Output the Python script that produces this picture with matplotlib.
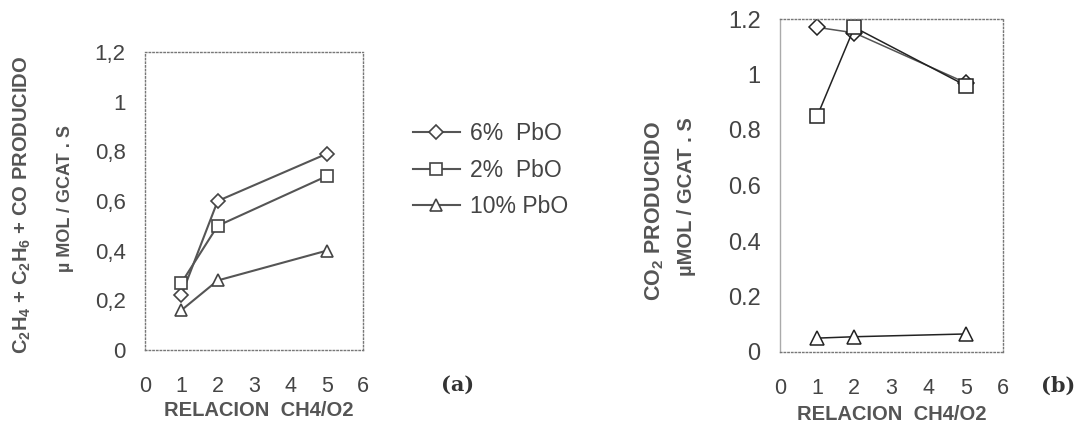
import numpy as np
import matplotlib
matplotlib.use('Agg')
import matplotlib.pyplot as plt

plt.rcParams['font.family'] = ['Liberation Sans', 'DejaVu Sans']
plt.rcParams['mathtext.default'] = 'regular'

# data
x = [1, 2, 5]
series_names = ['6%  PbO', '2%  PbO', '10% PbO']
markers = ['D', 's', '^']

# (a) C2H4 + C2H6 + CO producido
a_6 = [0.22, 0.60, 0.79]
a_2 = [0.27, 0.50, 0.70]
a_10 = [0.16, 0.28, 0.40]

# (b) CO2 producido
b_6 = [1.17, 1.15, 0.97]
b_2 = [0.85, 1.17, 0.96]
b_10 = [0.05, 0.055, 0.065]

xticks_vals = [0, 1, 2, 3, 4, 5, 6]
yticks_vals = [0, 0.2, 0.4, 0.6, 0.8, 1.0, 1.2]
yticks_a = ['0', '0,2', '0,4', '0,6', '0,8', '1', '1,2']
yticks_b = ['0', '0.2', '0.4', '0.6', '0.8', '1', '1.2']

txt = '#444444'
lab = '#555555'

fig = plt.figure(figsize=(10.77, 4.30), dpi=100)
ax1 = fig.add_axes([145/1077, 80/430, 218/1077, 298/430])
ax2 = fig.add_axes([780/1077, 78/430, 223/1077, 333/430])

msz = [7, 9, 9]

# ---- panel (a)
handles = []
for ys, m, name, ms in zip([a_6, a_2, a_10], markers, series_names, msz):
    h, = ax1.plot(x, ys, marker=m, color='#555555', lw=1.5, ms=ms,
                  mfc='white', mec='#444444', mew=1.2, label=name)
    handles.append(h)

# ---- panel (b)
cols_b = ['#555555', '#222222', '#222222']
for ys, m, ms, c in zip([b_6, b_2, b_10], markers, msz, cols_b):
    ax2.plot(x, ys, marker=m, color=c, lw=1.1, ms=ms + 1,
             mfc='white', mec='#222222', mew=1.1)

for ax, ylbls, fs in [(ax1, yticks_a, 16), (ax2, yticks_b, 17)]:
    ax.set_xlim(0, 6)
    ax.set_ylim(0, 1.2)
    ax.set_xticks(xticks_vals)
    ax.set_xticklabels([str(v) for v in xticks_vals])
    ax.set_yticks(yticks_vals)
    ax.set_yticklabels(ylbls)
    ax.tick_params(axis='x', length=0, pad=19, labelsize=15.5, labelcolor=txt)
    ax.tick_params(axis='y', length=0, pad=14, labelsize=fs, labelcolor=txt)
    for s in ['top', 'right', 'bottom', 'left']:
        ax.spines[s].set_linestyle(':')
        ax.spines[s].set_color('#777777')
        ax.spines[s].set_linewidth(1.0)
ax2.spines['left'].set_linestyle('-')
ax2.spines['left'].set_color('#aaaaaa')

# legend
fig.legend(handles=handles, loc='upper left', bbox_to_anchor=(413/1077, 1 - 122/430),
           frameon=False, fontsize=16.5, handlelength=2.05, handletextpad=0.45,
           labelspacing=0.6, borderpad=0, borderaxespad=0, labelcolor=txt)

# y labels
fig.text(22/1077, 1 - 205/430, 'C$_2$H$_4$ + C$_2$H$_6$ + CO PRODUCIDO', rotation=90,
         ha='center', va='center', fontsize=14.5, fontweight='bold', color=lab)
fig.text(65/1077, 1 - 198/430, 'µ MOL / GCAT . S', rotation=90,
         ha='center', va='center', fontsize=13, fontweight='bold', color=lab)
fig.text(655/1077, 1 - 211/430, 'CO$_2$ PRODUCIDO', rotation=90,
         ha='center', va='center', fontsize=15.5, fontweight='bold', color=lab)
fig.text(687/1077, 1 - 197/430, 'µMOL / GCAT . S', rotation=90,
         ha='center', va='center', fontsize=14.5, fontweight='bold', color=lab)

# x labels
fig.text(259/1077, 1 - 410/430, 'RELACION  CH4/O2', ha='center', va='center',
         fontsize=14.5, fontweight='bold', color=lab)
fig.text(892/1077, 1 - 415/430, 'RELACION  CH4/O2', ha='center', va='center',
         fontsize=14.5, fontweight='bold', color=lab)

# panel tags
fig.text(458/1077, 1 - 385/430, '(a)', ha='center', va='center',
         fontsize=15, fontweight='bold', color='#333333', family='DejaVu Serif')
fig.text(1058/1077, 1 - 386/430, '(b)', ha='center', va='center',
         fontsize=15, fontweight='bold', color='#333333', family='DejaVu Serif')

fig.savefig('out.png', dpi=100, facecolor='white')
